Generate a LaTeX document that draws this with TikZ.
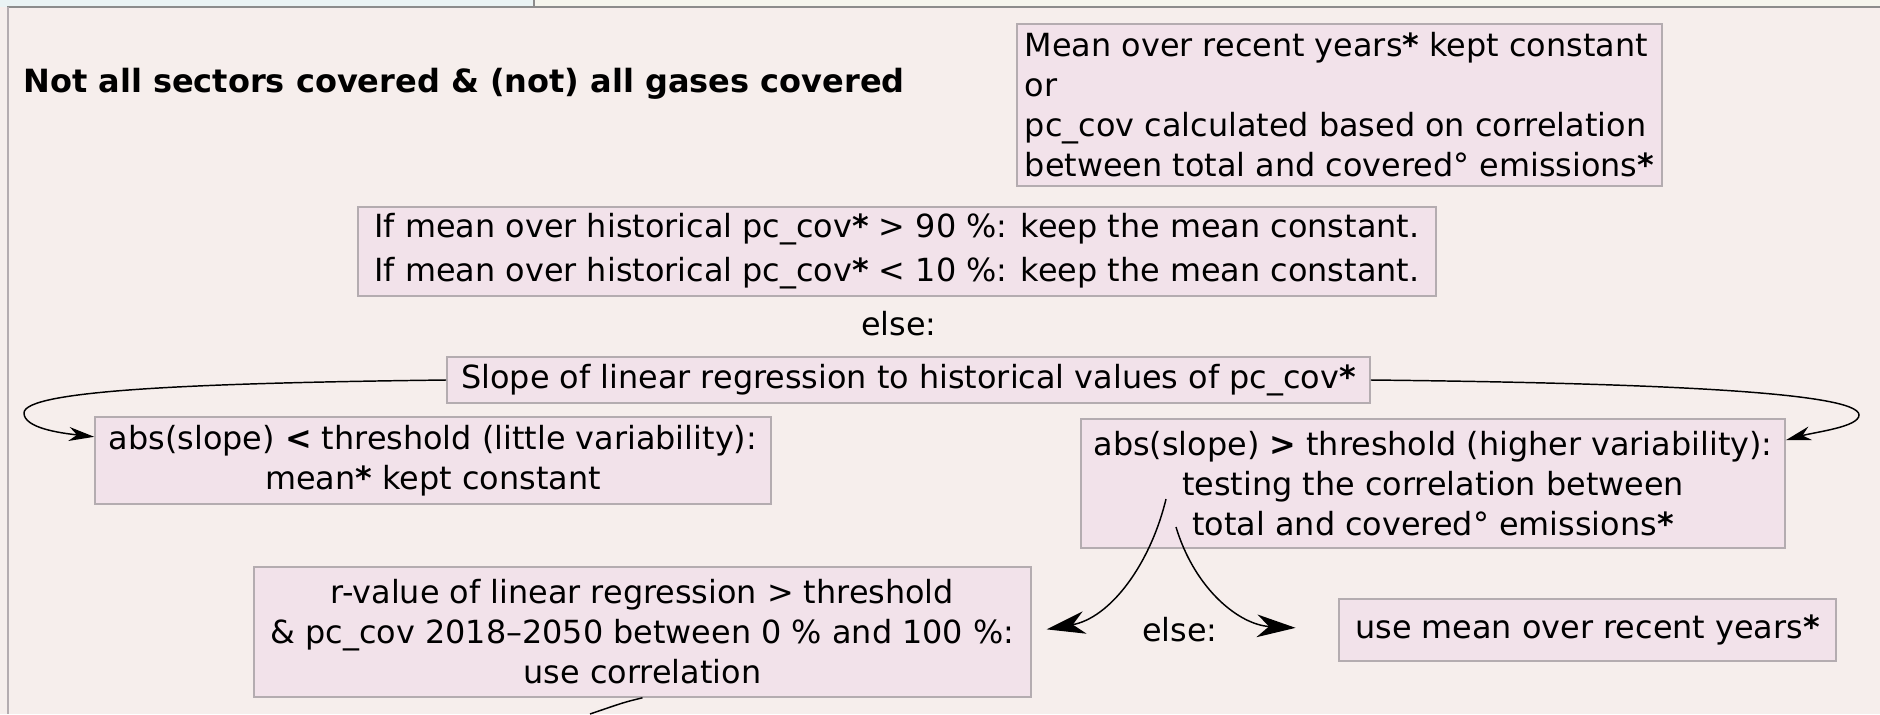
\documentclass[tikz,border=0pt]{standalone}
\usepackage{fontspec}
\setmainfont{DejaVu Sans}
\usepackage{tikz}
\usetikzlibrary{arrows.meta, positioning, calc}

\definecolor{pagebg}{RGB}{246,238,236}
\definecolor{tabblue}{RGB}{234,243,244}
\definecolor{tabyellow}{RGB}{245,245,237}
\definecolor{boxfill}{RGB}{242,226,234}
\definecolor{boxline}{RGB}{180,172,176}
\definecolor{frameline}{RGB}{140,140,140}

\begin{document}
\begin{tikzpicture}[x=0.75pt,y=0.75pt,yscale=-1,xscale=1,
  rulebox/.style={draw=boxline, fill=boxfill, line width=1.2pt, inner sep=0pt,
    font=\fontsize{23.9}{30}\selectfont},
  plain/.style={inner sep=0pt, font=\fontsize{23.9}{30}\selectfont},
  link/.style={line width=1.1pt},
  smalltip/.style={-{Stealth[length=19pt,width=10.5pt,inset=6pt]}},
  bigtip/.style={-{Stealth[length=29pt,width=17pt,inset=9pt]}}]

%Background
\useasboundingbox (0,0) rectangle (1880,714);
\fill [pagebg] (0,0) rectangle (1880,714);
\fill [tabblue] (0,0) rectangle (534,7);
\fill [tabyellow] (534,0) rectangle (1880,7);
\draw [frameline, line width=1.5pt] (7,7) -- (1880,7);
\draw [frameline, line width=1pt] (534,0) -- (534,7);
\draw [boxline, line width=1.5pt] (7.5,7) -- (7.5,714);

% Text Node
\node (title) at (23,84) [plain, anchor=west, font=\bfseries\fontsize{24}{30}\selectfont] {Not all sectors covered \& (not) all gases covered};
% Text Node
\node (options) at (1339.5,105) [rulebox, minimum width=483.75pt, minimum height=121.5pt, align=left] {Mean over recent years\textbf{*} kept constant\\or\\pc\_cov calculated based on correlation\\between total and covered° emissions\textbf{*}};
% Text Node
\node (limits) at (897,251.5) [rulebox, minimum width=808.5pt, minimum height=66.75pt, align=left, font=\fontsize{23.9}{33}\selectfont] {If mean over historical pc\_cov\textbf{*} > 90 \%: keep the mean constant.\\If mean over historical pc\_cov\textbf{*} < 10 \%: keep the mean constant.};
% Text Node
\node (else1) at (899,324) [plain] {else:};
% Text Node
\node (slope) at (908.5,380) [rulebox, minimum width=692.25pt, minimum height=34.5pt] {Slope of linear regression to historical values of pc\_cov\textbf{*}};
% Text Node
\node (lowvar) at (433,460.5) [rulebox, minimum width=507pt, minimum height=65.25pt, align=center] {abs(slope) \textbf{<} threshold (little variability):\\mean\textbf{*} kept constant};
% Text Node
\node (highvar) at (1433,483.5) [rulebox, minimum width=528pt, minimum height=96.75pt, align=center] {abs(slope) \textbf{>} threshold (higher variability):\\testing the correlation between\\total and covered° emissions\textbf{*}};
% Text Node
\node (rvalue) at (642.5,632) [rulebox, minimum width=582.75pt, minimum height=97.5pt, align=center] {r-value of linear regression > threshold\\\& pc\_cov 2018–2050 between 0 \% and 100 \%:\\use correlation};
% Text Node
\node (else2) at (1180,630) [plain] {else:};
% Text Node
\node (meanrec) at (1587.5,630) [rulebox, minimum width=372.75pt, minimum height=46.5pt] {use mean over recent years\textbf{*}};

%Curve Lines
\draw [link, smalltip] (slope.west) .. controls (200,383) and (24,390) .. (24,413) .. controls (24,428) and (60,433) .. (lowvar.176);
%Curve Lines
\draw [link, smalltip] (slope.east) .. controls (1650,383) and (1859,392) .. (1859,415) .. controls (1859,427) and (1815,432) .. (highvar.7.4);
%Curve Lines
\draw [link, bigtip, shorten >=11.25pt] ($(highvar.center)+(-267,15.5)$) .. controls (1150,565) and (1110,618) .. (rvalue.east);
%Curve Lines
\draw [link, bigtip, shorten >=32pt] ($(highvar.center)+(-257,43.5)$) .. controls (1195,590) and (1240,625) .. (meanrec.west);
%Straight Lines
\coordinate (bottomend) at (590,714);
\draw [link] (rvalue.south) .. controls (625,702) .. (bottomend);

\end{tikzpicture}
\end{document}
